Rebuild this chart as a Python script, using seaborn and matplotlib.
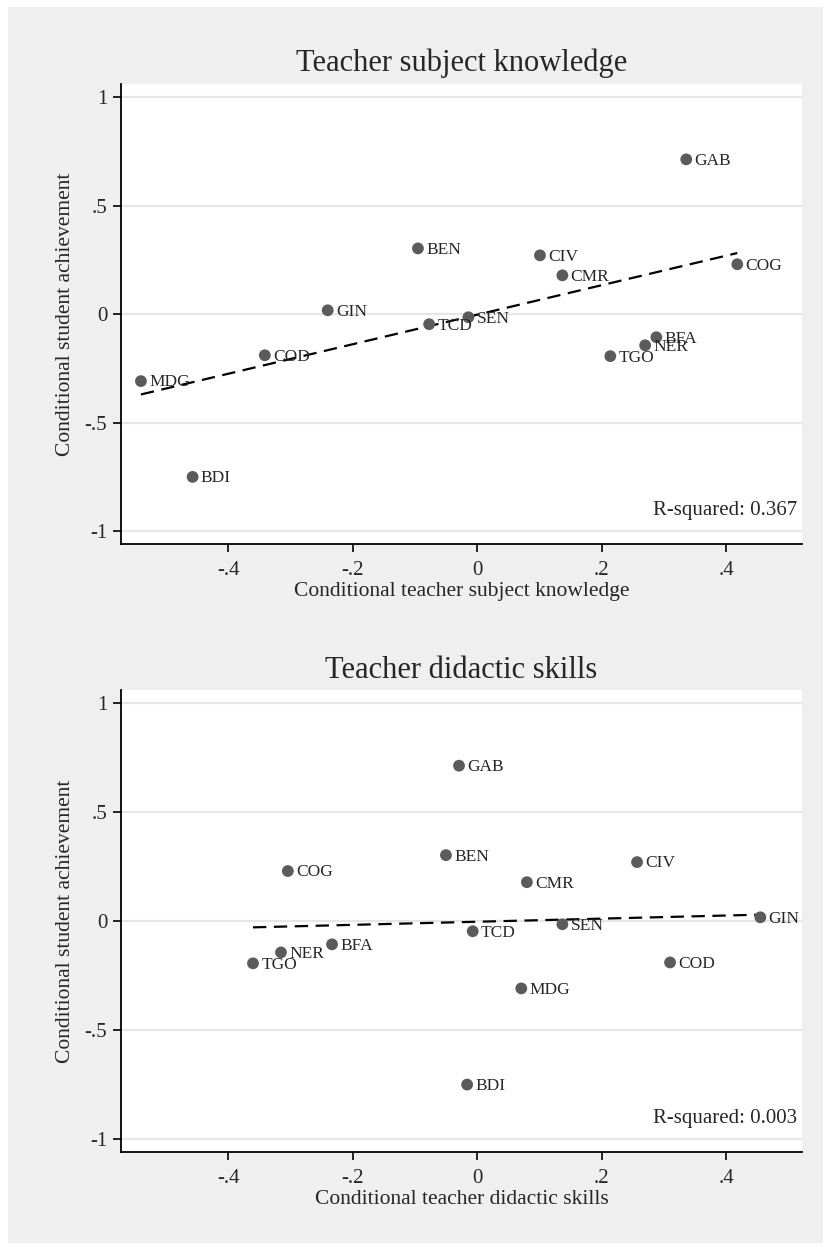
import numpy as np
import pandas as pd
import seaborn as sns
import matplotlib.pyplot as plt
from matplotlib.patches import Rectangle

# country codes and conditional values
countries = ["GAB", "COG", "BEN", "CIV", "CMR", "TCD", "SEN",
             "BFA", "NER", "TGO", "GIN", "COD", "MDG", "BDI"]
achievement = [0.713, 0.230, 0.303, 0.271, 0.179, -0.046, -0.014,
               -0.106, -0.143, -0.193, 0.018, -0.189, -0.308, -0.749]
subject_knowledge = [0.336, 0.418, -0.095, 0.101, 0.137, -0.077, -0.014,
                     0.288, 0.270, 0.214, -0.240, -0.341, -0.540, -0.457]
didactic_skills = [-0.029, -0.304, -0.050, 0.257, 0.080, -0.007, 0.137,
                   -0.233, -0.315, -0.360, 0.455, 0.310, 0.071, -0.016]

titles = ["Teacher subject knowledge", "Teacher didactic skills"]
xlabels = ["Conditional teacher subject knowledge", "Conditional teacher didactic skills"]
ylabel = "Conditional student achievement"
r2_texts = ["R-squared: 0.367", "R-squared: 0.003"]

xticks = [-0.4, -0.2, 0, 0.2, 0.4]
xticklabels = ["-.4", "-.2", "0", ".2", ".4"]
yticks = [1, 0.5, 0, -0.5, -1]
yticklabels = ["1", ".5", "0", "-.5", "-1"]

df = pd.DataFrame({"country": countries, "achievement": achievement,
                   "subject": subject_knowledge, "didactic": didactic_skills})

sns.set_style("white")
plt.rcParams['font.family'] = ['Liberation Serif', 'DejaVu Serif']

fig = plt.figure(figsize=(8.3, 12.5), dpi=100)
fig.patch.set_facecolor("white")
fig.patches.append(Rectangle((8 / 830, 7 / 1250), 815 / 830, 1236 / 1250,
                             transform=fig.transFigure, facecolor="#efefef",
                             edgecolor="none", zorder=-10))

ax1 = fig.add_axes([0.1458, 0.5648, 0.8205, 0.368])
ax2 = fig.add_axes([0.1458, 0.0784, 0.8205, 0.3696])

dot = "#5b5b5b"
for ax, xcol, title, xlabel, r2 in zip([ax1, ax2], ["subject", "didactic"], titles, xlabels, r2_texts):
    ax.set_facecolor("white")
    ax.set_xlim(-0.572, 0.522)
    ax.set_ylim(-1.058, 1.06)
    ax.set_axisbelow(True)
    for v in yticks:
        ax.axhline(v, color="#e6e6e6", lw=1.6, zorder=0)

    # dashed least-squares line, like Stata's lfit
    sns.regplot(data=df, x=xcol, y="achievement", ax=ax, scatter=False, ci=None,
                line_kws=dict(color="black", lw=1.6, dashes=(6, 3.4), zorder=3))
    sns.scatterplot(data=df, x=xcol, y="achievement", ax=ax, color=dot, s=72,
                    edgecolor="none", zorder=4)
    for _, row in df.iterrows():
        ax.annotate(row["country"], (row[xcol], row["achievement"]),
                    xytext=(6, -1), textcoords="offset points",
                    ha="left", va="center", fontsize=12.5, zorder=5)

    ax.text(0.993, 0.072, r2, transform=ax.transAxes, ha="right", va="center", fontsize=15)

    ax.set_xticks(xticks)
    ax.set_xticklabels(xticklabels)
    ax.set_yticks(yticks)
    ax.set_yticklabels(yticklabels)
    ax.tick_params(axis="both", direction="out", length=6, width=1.2, color="black",
                   labelsize=15)
    ax.tick_params(axis="x", bottom=True, pad=6)
    ax.tick_params(axis="y", left=True, pad=4)
    for side in ["top", "right"]:
        ax.spines[side].set_visible(False)
    for side in ["left", "bottom"]:
        ax.spines[side].set_color("black")
        ax.spines[side].set_linewidth(1.3)

    ax.set_title(title, fontsize=22, pad=9)
    ax.set_xlabel(xlabel, fontsize=15.5, labelpad=2)
    ax.set_ylabel(ylabel, fontsize=15.5, labelpad=7)

fig.savefig("out.png", dpi=100, facecolor=fig.get_facecolor())
